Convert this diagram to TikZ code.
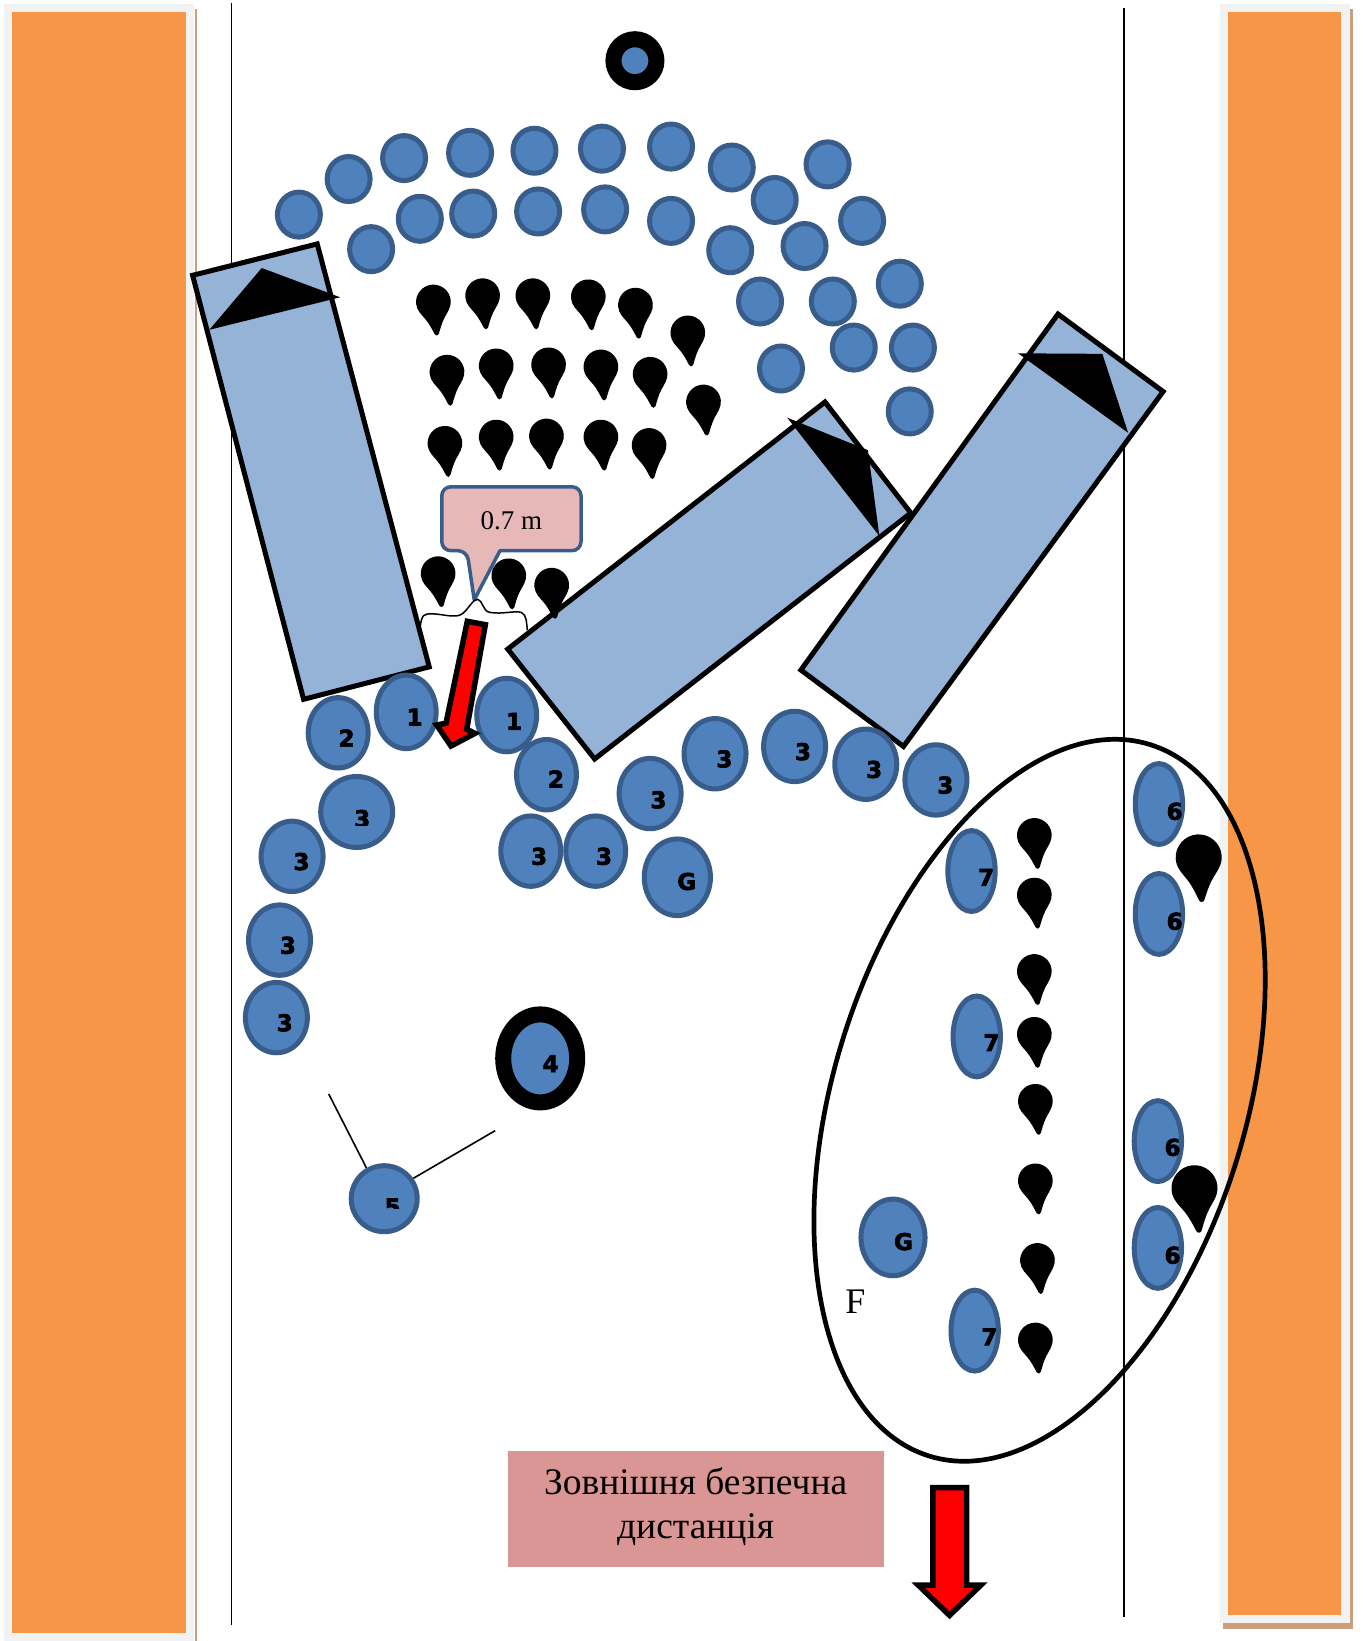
\documentclass[tikz,border=0pt]{standalone}
\usepackage{fontspec}
\usepackage{tikz}
\usetikzlibrary{shapes.geometric}
\setmainfont{Liberation Serif}
\newfontfamily\heavyfont[FakeBold=3]{DejaVu Sans Bold}
\definecolor{seatblue}{HTML}{4F81BD}
\definecolor{seatline}{HTML}{385D8A}
\definecolor{benchblue}{HTML}{95B3D7}
\definecolor{wallorange}{HTML}{F79646}
\definecolor{wallframe}{HTML}{F2F2F2}
\definecolor{wallshadow}{HTML}{CB9F7C}
\definecolor{noterose}{HTML}{E6B9B8}
\definecolor{boxrose}{HTML}{D99694}
\tikzset{
  seat/.style={ellipse,draw=seatline,line width=5pt,fill=seatblue,inner sep=0pt},
  numeral/.style={font=\heavyfont\fontsize{23}{23}\selectfont,inner sep=0pt},
  bench/.style={draw=black,line width=5pt,fill=benchblue,line join=miter},
  blockarrow/.style={draw=black,line width=5.5pt,fill=red,miter limit=6},
  droplet/.pic={
    \fill[black] (0,-1) .. controls (0.55,-1) and (1,-0.55) .. (1,0)
      .. controls (1,0.4) and (0.75,0.65) .. (0.55,0.95)
      .. controls (0.35,1.25) and (0.22,1.6) .. (0.12,1.85)
      .. controls (0.08,1.97) and (-0.08,1.97) .. (-0.12,1.85)
      .. controls (-0.22,1.6) and (-0.35,1.25) .. (-0.55,0.95)
      .. controls (-0.75,0.65) and (-1,0.4) .. (-1,0)
      .. controls (-1,-0.55) and (-0.55,-1) .. (0,-1) -- cycle;
  }
}
\begin{document}
\begin{tikzpicture}[x=1.0469pt,y=-1.0469pt]
  \useasboundingbox (0,0) rectangle (1301,1567.5);
  \fill[wallframe] (3.8,3.8) rectangle (185.3,1567.5);
  \fill[wallshadow] (186.3,8.6) rectangle (188.2,1567.5);
  \fill[wallorange] (11.5,11.5) rectangle (177.7,1560);
  \fill[wallshadow] (1168.2,8.6) rectangle (1292.4,1556);
  \fill[wallframe] (1165.4,3.8) rectangle (1289.5,1550.3);
  \fill[wallorange] (1172.9,11.5) rectangle (1281,1542.7);
  \draw[line width=1.6pt] (221,3) -- (221,1552);
  \draw[line width=1.6pt] (1073.5,8) -- (1073.5,1545);

  \node[seat,draw=black,line width=16pt,minimum width=43pt,minimum height=43pt] (target) at (606.5,58) {};
  \foreach \x/\y [count=\i] in {285.5/205, 333/171, 386/151, 449/146, 510.5/144, 575/142, 641/140, 699/160, 790.5/157,
    354.5/238, 401/209, 452/204, 514/202, 578/200, 641/211, 697.5/239, 740/191, 823.5/211, 768.5/235,
    726/288, 795.5/288, 859.5/271, 815.5/332, 872/332, 746/352, 869/393} {
    \node[seat,minimum width=43pt,minimum height=45pt] (c\i) at (\x,\y) {};
  }

  \draw[bench] (184,263) -- (303,233) -- (410,637) -- (290,668) -- cycle;
  \fill (200,315) -- (250,256) -- (325,284) -- cycle;
  \draw[bench] (485,620) -- (788,384) -- (870,490) -- (568,725) -- cycle;
  \fill (752,399) -- (829,430) -- (840,512) -- cycle;
  \draw[bench] (765,640) -- (1010.6,300) -- (1111,374) -- (863,713) -- cycle;
  \fill (972.5,337.5) -- (1053,338) -- (1077.6,413.4) -- cycle;

  \foreach \x/\y in {414/288.5, 461/282.5, 509/282.5, 562/283.5, 607/291.5, 657/318,
    427/355.5, 474/349.5, 524/348.5, 574/350.5, 621/357.5, 672/384,
    425/423.5, 474/417.5, 522/416.5, 574/417.5, 620/425.5,
    418.5/548, 486/550, 527/559,
    988/798, 988/855, 988/928, 988/988, 989/1052, 989/1128, 991/1204, 989/1280} {
    \pic[rotate=6,scale=16.6] at (\x,\y) {droplet};
  }
  \pic[rotate=4,scale=22] at (1145,819) {droplet};
  \pic[rotate=6,scale=22] at (1141,1135) {droplet};

  \foreach \x/\y/\w/\h/\tx/\ty/\l [count=\i] in {388/680/62/75/396/685/1, 484/683/62/75/491/689/1,
    323/700/62/72/331/705/2, 522/740/62/72/531/744/2,
    279/818/64/72/288/823/3, 267/898/64/72/275/903/3, 264/972/64/72/272/977/3,
    507/813/62/72/515/818/3, 569/813/62/72/577/818/3, 621/758/64/72/629/764/3,
    683/720/64/72/692/725/3, 759/713/64/72/767/718/3, 827/730/64/72/835/735/3, 894/745/64/72/903/750/3,
    647/838/68/78/656/842/G, 853/1182/66/78/863/1186/G,
    928/832/50/82/942/838/7, 933/990/50/82/947/996/7, 931/1271/50/82/945/1277/7,
    1107/768/50/82/1122/775/6, 1107/873/50/82/1122/880/6, 1106/1090/50/82/1120/1096/6, 1106/1192/50/82/1120/1199/6} {
    \node[seat,minimum width=1.0469*\w pt-5pt,minimum height=1.0469*\h pt-5pt] (o\i) at (\x,\y) {};
    \node[numeral] (t\i) at (\tx,\ty) {\l};
  }
  \node[seat,minimum width=72pt,minimum height=71pt] (o24) at (340.7,775.6) {};
  \begin{scope}
    \clip (330,765) rectangle (360,788.5);
    \node[numeral] (t24) at (346,782) {3};
  \end{scope}
  \node[seat,minimum width=66pt,minimum height=66pt] (o25) at (367,1145) {};
  \begin{scope}
    \clip (360,1140) rectangle (390,1154);
    \node[numeral] (t25) at (375,1153) {5};
  \end{scope}
  \node[seat,draw=black,line width=16pt,minimum width=74pt,minimum height=88pt] (o26) at (516,1011) {};
  \node[numeral] (t26) at (526,1016) {4};

  \coordinate (guyleft) at (314,1045);
  \coordinate (guyright) at (473,1080);
  \draw[line width=1.6pt] (guyleft) -- (o25.120);
  \draw[line width=1.6pt] (guyright) -- (o25.35);

  \draw[draw=seatline,fill=noterose,line width=3.5pt,line join=round,rounded corners=9pt]
    (446,526) [sharp corners] -- (453,573) -- (477.6,526) [rounded corners=9pt] -- (555,526) -- (555,465) -- (422,465) -- (422,526) -- cycle;
  \node[font=\fontsize{27}{27}\selectfont,inner sep=0pt] (gap) at (488.5,497) {0.7 m};
  \draw[line width=1.5pt] (400.5,605) .. controls (402,595) and (402,587) .. (408,586.5)
    .. controls (420,585) and (435,592) .. (442,586) .. controls (448,581) and (452,572) .. (456.3,572.5)
    .. controls (461,573) and (461,584) .. (468,585) .. controls (480,587) and (492,583) .. (498,585)
    .. controls (503,587) and (503,595) .. (503.7,602);
  \draw[blockarrow] (446.4,593.5) -- (463.6,596.7) -- (445.8,696.6) -- (453.7,700.5) -- (430.8,712.6)
    -- (417.1,692.5) -- (426,690.9) -- cycle;

  \node[ellipse,draw=black,line width=4.7pt,inner sep=0pt,minimum width=412pt,minimum height=745pt,rotate=-17.25] (zone) at (993,1051) {};
  \node[font=\fontsize{36}{36}\selectfont,inner sep=0pt] (f) at (817,1243) {F};
  \node[fill=boxrose,inner sep=0pt,minimum width=376pt,minimum height=116pt] (outer) at (664.5,1441.5) {};
  \node[align=center,inner sep=0pt,font=\fontsize{37.5}{44}\selectfont] (outertext) at (664.5,1439) {Зовнішня безпечна\\дистанція};
  \draw[blockarrow] (891,1421) -- (923.3,1421) -- (923.3,1514) -- (937,1514) -- (907,1543) -- (877,1514) -- (891,1514) -- cycle;
\end{tikzpicture}
\end{document}
